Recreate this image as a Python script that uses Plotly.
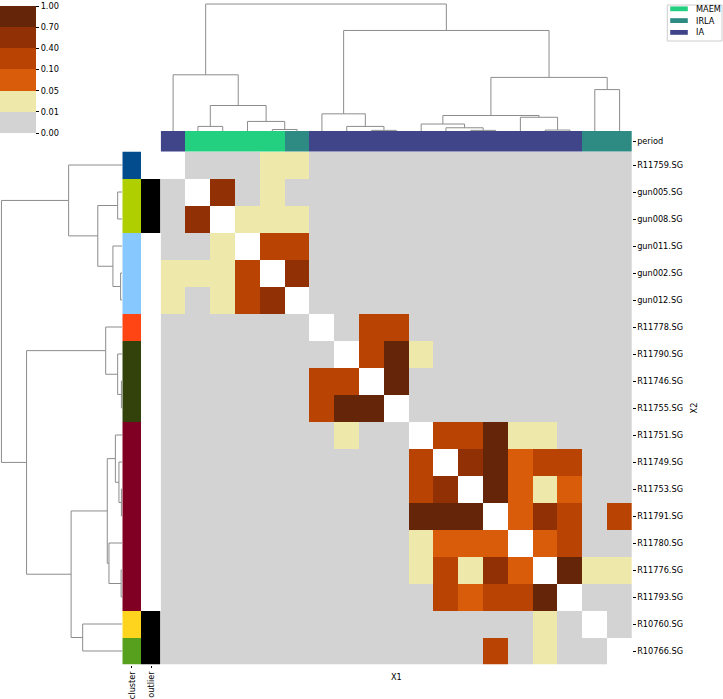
import numpy as np
import plotly.graph_objects as go

# ---------------- data ----------------
sample_labels = ["R11759.SG", "gun005.SG", "gun008.SG", "gun011.SG", "gun002.SG",
                 "gun012.SG", "R11778.SG", "R11790.SG", "R11746.SG", "R11755.SG",
                 "R11751.SG", "R11749.SG", "R11753.SG", "R11791.SG", "R11780.SG",
                 "R11776.SG", "R11793.SG", "R10760.SG", "R10766.SG"]

period_of_column = ["IA", "MAEM", "MAEM", "MAEM", "MAEM", "IRLA", "IA", "IA", "IA", "IA",
                    "IA", "IA", "IA", "IA", "IA", "IA", "IA", "IRLA", "IRLA"]
period_categories = ["MAEM", "IRLA", "IA"]
period_colors = ["#22d080", "#2e8b83", "#404488"]

cluster_of_row = [1, 2, 2, 3, 3, 3, 4, 5, 5, 5, 6, 6, 6, 6, 6, 6, 6, 7, 8]
cluster_colors = ["#024b8c", "#b0cf00", "#87c8fe", "#ff4513", "#33420a",
                  "#7f0023", "#fed41f", "#56a01d"]
outlier_of_row = [0, 1, 1, 0, 0, 0, 0, 0, 0, 0, 0, 0, 0, 0, 0, 0, 0, 1, 1]
outlier_colors = ["#ffffff", "#000000"]
row_color_labels = ["cluster", "outlier"]

bin_edges = [0.00, 0.01, 0.05, 0.10, 0.40, 0.70, 1.00]
bin_labels = ["0.00", "0.01", "0.05", "0.10", "0.40", "0.70", "1.00"]
bin_colors = ["#d3d3d3", "#eee8aa", "#d95c0a", "#b94303", "#913004", "#652508"]

N = None
similarity = [
    [N, .005, .005, .005, .03, .03, .005, .005, .005, .005, .005, .005, .005, .005, .005, .005, .005, .005, .005],
    [.005, N, .55, .005, .03, .005, .005, .005, .005, .005, .005, .005, .005, .005, .005, .005, .005, .005, .005],
    [.005, .55, N, .03, .03, .03, .005, .005, .005, .005, .005, .005, .005, .005, .005, .005, .005, .005, .005],
    [.005, .005, .03, N, .25, .25, .005, .005, .005, .005, .005, .005, .005, .005, .005, .005, .005, .005, .005],
    [.03, .03, .03, .25, N, .55, .005, .005, .005, .005, .005, .005, .005, .005, .005, .005, .005, .005, .005],
    [.03, .005, .03, .25, .55, N, .005, .005, .005, .005, .005, .005, .005, .005, .005, .005, .005, .005, .005],
    [.005, .005, .005, .005, .005, .005, N, .005, .25, .25, .005, .005, .005, .005, .005, .005, .005, .005, .005],
    [.005, .005, .005, .005, .005, .005, .005, N, .25, .85, .03, .005, .005, .005, .005, .005, .005, .005, .005],
    [.005, .005, .005, .005, .005, .005, .25, .25, N, .85, .005, .005, .005, .005, .005, .005, .005, .005, .005],
    [.005, .005, .005, .005, .005, .005, .25, .85, .85, N, .005, .005, .005, .005, .005, .005, .005, .005, .005],
    [.005, .005, .005, .005, .005, .005, .005, .03, .005, .005, N, .25, .25, .85, .03, .03, .005, .005, .005],
    [.005, .005, .005, .005, .005, .005, .005, .005, .005, .005, .25, N, .55, .85, .07, .25, .25, .005, .005],
    [.005, .005, .005, .005, .005, .005, .005, .005, .005, .005, .25, .55, N, .85, .07, .03, .07, .005, .005],
    [.005, .005, .005, .005, .005, .005, .005, .005, .005, .005, .85, .85, .85, N, .07, .55, .25, .005, .25],
    [.005, .005, .005, .005, .005, .005, .005, .005, .005, .005, .03, .07, .07, .07, N, .07, .25, .005, .005],
    [.005, .005, .005, .005, .005, .005, .005, .005, .005, .005, .03, .25, .03, .55, .07, N, .85, .03, .03],
    [.005, .005, .005, .005, .005, .005, .005, .005, .005, .005, .005, .25, .07, .25, .25, .85, N, .005, .005],
    [.005, .005, .005, .005, .005, .005, .005, .005, .005, .005, .005, .005, .005, .005, .005, .03, .005, N, .005],
    [.005, .005, .005, .005, .005, .005, .005, .005, .005, .005, .005, .005, .005, .25, .005, .03, .005, .005, N],
]

# hierarchical clustering (scipy-style linkage; ids >= 19 are earlier merges)
linkage_left = [4, 1, 3, 20, 0, 8, 7, 6, 12, 11, 10, 15, 14, 29, 17, 32, 26, 23]
linkage_right = [5, 2, 19, 21, 22, 9, 24, 25, 13, 27, 28, 16, 30, 31, 18, 33, 34, 35]
linkage_height = [1.4, 4.4, 9.2, 24.5, 54.0, 0.6, 4.4, 16.5, 0.6, 3.1, 6.7,
                  0.9, 13.2, 14.9, 39.8, 51.5, 96.6, 122.0]

# ---------------- helpers ----------------
W, H = 723, 699
FONT = "DejaVu Sans"
FS = 8.2
DCOL = "#8c8c8c"


def fx(px):
    return px / W


def fy(py):
    return 1 - py / H


def discrete_scale(colors):
    n = len(colors)
    cs = []
    for i, c in enumerate(colors):
        cs.append([i / n, c])
        cs.append([(i + 1) / n, c])
    return cs


def dendrogram_paths(left, right, height, n):
    pos = [float(i) for i in range(n)]
    hgt = [0.0] * n
    xs, ys = [], []
    for a, b, h in zip(left, right, height):
        xs += [pos[a], pos[a], pos[b], pos[b], None]
        ys += [hgt[a], h, h, hgt[b], None]
        pos.append((pos[a] + pos[b]) / 2)
        hgt.append(h)
    return xs, ys


n = len(sample_labels)
idx = list(range(n))

vals = np.array(similarity, dtype=float)
levels = np.digitize(vals, bin_edges[1:-1])
zmain = [[None if np.isnan(v) else float(l) + 0.5 for v, l in zip(rv, rl)]
         for rv, rl in zip(vals, levels)]

period_idx = [[period_categories.index(p) + 0.5 for p in period_of_column]]
row_col_z = [[c - 1 + 0.5, len(cluster_colors) + o + 0.5]
             for c, o in zip(cluster_of_row, outlier_of_row)]
row_col_colors = cluster_colors + outlier_colors

dx, dy = dendrogram_paths(linkage_left, linkage_right, linkage_height, n)
root = max(linkage_height)

# ---------------- layout geometry (px) ----------------
HX0, HX1 = 160.7, 632.0
HY0, HY1 = 151.5, 664.5
PY0 = 131.0
RCX0 = 122.3
DTOP = 2.0

nb = len(bin_colors)

fig = go.Figure()

fig.add_trace(go.Heatmap(
    z=zmain, x=idx, y=idx, xaxis="x", yaxis="y",
    colorscale=discrete_scale(bin_colors), zmin=0, zmax=nb,
    hoverongaps=False,
    colorbar=dict(
        x=0, xanchor="left", y=fy(69.5), yanchor="middle",
        thickness=36, thicknessmode="pixels",
        len=127, lenmode="pixels", xpad=0, ypad=0,
        outlinewidth=0, ticks="outside", ticklen=3.5, tickwidth=1, tickcolor="#000",
        tickvals=list(range(len(bin_labels))), ticktext=bin_labels,
        ticklabeloverflow="allow",
        tickfont=dict(family=FONT, size=FS, color="#000"),
    ),
))

fig.add_trace(go.Heatmap(
    z=period_idx, x=idx, y=[0], xaxis="x2", yaxis="y2",
    colorscale=discrete_scale(period_colors), zmin=0, zmax=len(period_colors),
    showscale=False,
))

fig.add_trace(go.Heatmap(
    z=row_col_z, x=[0, 1], y=idx, xaxis="x3", yaxis="y3",
    colorscale=discrete_scale(row_col_colors), zmin=0, zmax=len(row_col_colors),
    showscale=False,
))

fig.add_trace(go.Scatter(
    x=dy, y=dx, mode="lines", xaxis="x4", yaxis="y4",
    line=dict(color=DCOL, width=1), hoverinfo="skip", showlegend=False,
))

fig.add_trace(go.Scatter(
    x=dx, y=dy, mode="lines", xaxis="x5", yaxis="y5",
    line=dict(color=DCOL, width=1), hoverinfo="skip", showlegend=False,
))

hidden = dict(showgrid=False, zeroline=False, showticklabels=False, ticks="",
              showline=False, automargin=False)
tickfont = dict(family=FONT, size=FS, color="#000")

layout = dict(
    width=W, height=H, template="none",
    margin=dict(l=0, r=0, t=0, b=0, pad=0),
    paper_bgcolor="white", plot_bgcolor="white",
    font=dict(family=FONT, size=FS, color="#000"),
    showlegend=False,
    xaxis=dict(domain=[fx(HX0), fx(HX1)], range=[-0.5, n - 0.5], anchor="y",
               **hidden,
               title=dict(text="X1", font=tickfont, standoff=9.5)),
    yaxis=dict(domain=[fy(HY1), fy(HY0)], range=[n - 0.5, -0.5], anchor="x",
               side="right", showgrid=False, zeroline=False, showline=False,
               automargin=False, ticks="outside", ticklen=2.5, tickwidth=1,
               tickcolor="#000", tickvals=idx, ticktext=sample_labels,
               tickfont=tickfont,
               title=dict(text="X2", font=tickfont, standoff=9)),
    xaxis2=dict(domain=[fx(HX0), fx(HX1)], range=[-0.5, n - 0.5], anchor="y2",
                **hidden),
    yaxis2=dict(domain=[fy(HY0), fy(PY0)], range=[-0.5, 0.5], anchor="x2",
                side="right", showgrid=False, zeroline=False, showline=False,
                automargin=False, ticks="outside", ticklen=2.5, tickwidth=1,
                tickcolor="#000", tickvals=[0], ticktext=["period"],
                tickfont=tickfont),
    xaxis3=dict(domain=[fx(RCX0), fx(HX0)], range=[-0.5, 1.5], anchor="y3",
                showgrid=False, zeroline=False, showline=False, automargin=False,
                ticks="outside", ticklen=2.5, tickwidth=1, tickcolor="#000",
                tickvals=[0, 1], ticktext=row_color_labels, tickangle=-90,
                tickfont=tickfont),
    yaxis3=dict(domain=[fy(HY1), fy(HY0)], range=[n - 0.5, -0.5], anchor="x3",
                **hidden),
    xaxis4=dict(domain=[0, fx(RCX0 - 0.3)], range=[root * 1.012, 0], anchor="y4",
                **hidden),
    yaxis4=dict(domain=[fy(HY1), fy(HY0)], range=[n - 0.5, -0.5], anchor="x4",
                **hidden),
    xaxis5=dict(domain=[fx(HX0), fx(HX1)], range=[-0.5, n - 0.5], anchor="y5",
                **hidden),
    yaxis5=dict(domain=[fy(PY0), fy(DTOP)], range=[0, root * 1.016], anchor="x5",
                **hidden),
)
fig.update_layout(**layout)

# legend for the period column colours
LX0, LX1, LY0, LY1 = 667.3, 722.0, 5.0, 41.0
fig.add_shape(type="rect", xref="paper", yref="paper",
              x0=fx(LX0), x1=fx(LX1), y0=fy(LY1), y1=fy(LY0),
              line=dict(color="#cccccc", width=1), fillcolor="rgba(255,255,255,0.8)")
for i, (cat, col) in enumerate(zip(period_categories, period_colors)):
    yc = 8.8 + i * 11.8
    fig.add_shape(type="rect", xref="paper", yref="paper",
                  x0=fx(670.2), x1=fx(687.8), y0=fy(yc + 2.4), y1=fy(yc - 2.4),
                  line=dict(width=0), fillcolor=col)
    fig.add_annotation(x=fx(693.5), y=fy(yc), xref="paper", yref="paper",
                       text=cat, showarrow=False, xanchor="left", yanchor="middle",
                       font=dict(family=FONT, size=FS, color="#000"))

fig.write_html("out.html",
               config={"displayModeBar": False, "staticPlot": True},
               post_script="document.body.style.margin='0';"
                           "document.body.style.overflow='hidden';")
